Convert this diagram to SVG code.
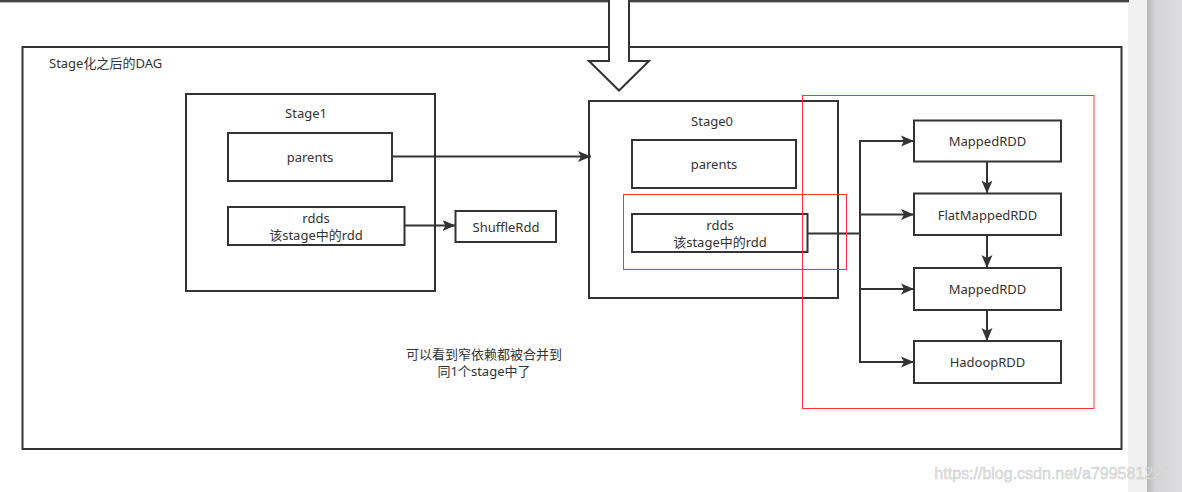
<svg xmlns="http://www.w3.org/2000/svg" width="1182" height="492" viewBox="0 0 1182 492">
<style>
.box{fill:#ffffff;stroke:#333333;stroke-width:2}
.red{fill:none;stroke:#ff3333;stroke-width:1}
.t{font-family:"Noto Sans","Noto Sans CJK SC",sans-serif;font-size:13px;fill:#333333;text-anchor:middle;dominant-baseline:central}
.conn{fill:none;stroke:#333333;stroke-width:2}
</style>
<defs>
<marker id="ah" markerUnits="userSpaceOnUse" markerWidth="14" markerHeight="12" viewBox="0 0 14 12" refX="13" refY="6" orient="auto">
<path d="M0,0.5 L13,6 L0,11.5 L3,6 Z" fill="#333333"/>
</marker>
<linearGradient id="side" x1="0" y1="0" x2="1" y2="0">
<stop offset="0" stop-color="#b8b8b8"/>
<stop offset="0.25" stop-color="#d4d4d6"/>
<stop offset="1" stop-color="#dedee0"/>
</linearGradient>
</defs>
<rect x="0" y="0" width="1182" height="492" fill="#ffffff"/>
<rect x="1128" y="0" width="20" height="492" fill="#f0f0f0"/>
<rect x="1147" y="0" width="35" height="492" fill="url(#side)"/>
<line x1="0" y1="1" x2="1129" y2="1" stroke="#444444" stroke-width="2"/>
<line x1="0" y1="2.5" x2="1129" y2="2.5" stroke="#bbbbbb" stroke-width="1"/>

<g id="outer">
<rect class="box" x="22.5" y="47" width="1099" height="402" fill="none"/>
<text class="t" x="49" y="63" style="text-anchor:start">Stage化之后的DAG</text>
</g>

<g id="bigarrow">
<polygon points="609,-2 629,-2 629,61 649,61 619,90.5 589,61 609,61" fill="#ffffff" stroke="#333333" stroke-width="2"/>
</g>

<g id="stage1">
<rect class="box" x="186" y="94" width="249" height="197"/>
<text class="t" x="306" y="113">Stage1</text>
</g>
<g id="stage1-parents">
<rect class="box" x="228" y="133" width="164" height="48"/>
<text class="t" x="310" y="157">parents</text>
</g>
<g id="stage1-rdds">
<rect class="box" x="228" y="207" width="176.5" height="38"/>
<text class="t" x="316" y="217.5">rdds</text>
<text class="t" x="316" y="235">该stage中的rdd</text>
</g>
<g id="shufflerdd">
<rect class="box" x="455.5" y="211" width="100.5" height="31"/>
<text class="t" x="506" y="226.5">ShuffleRdd</text>
</g>

<g id="stage0">
<rect class="box" x="589" y="101" width="249" height="197"/>
<text class="t" x="712" y="121">Stage0</text>
</g>
<g id="stage0-parents">
<rect class="box" x="632" y="140" width="164" height="48"/>
<text class="t" x="714" y="164">parents</text>
</g>
<g id="stage0-rdds">
<rect class="box" x="632" y="214" width="175.5" height="38"/>
<text class="t" x="720" y="225">rdds</text>
<text class="t" x="720" y="242">该stage中的rdd</text>
</g>

<g id="mapped1">
<rect class="box" x="914" y="120.5" width="147" height="41"/>
<text class="t" x="987.5" y="141">MappedRDD</text>
</g>
<g id="flatmapped">
<rect class="box" x="914" y="193.5" width="147" height="41.5"/>
<text class="t" x="987.5" y="214.5">FlatMappedRDD</text>
</g>
<g id="mapped2">
<rect class="box" x="914" y="268" width="147" height="42"/>
<text class="t" x="987.5" y="289">MappedRDD</text>
</g>
<g id="hadoop">
<rect class="box" x="914" y="341" width="147" height="42"/>
<text class="t" x="987.5" y="362">HadoopRDD</text>
</g>

<g id="connectors">
<line class="conn" x1="392" y1="156.5" x2="591" y2="156.5" marker-end="url(#ah)"/>
<line class="conn" x1="404.5" y1="225.5" x2="455.5" y2="225.5" marker-end="url(#ah)"/>
<polyline class="conn" points="807.5,233.5 860,233.5"/>
<line class="conn" x1="860" y1="140" x2="860" y2="363"/>
<line class="conn" x1="859" y1="141" x2="914" y2="141" marker-end="url(#ah)"/>
<line class="conn" x1="859" y1="214.5" x2="914" y2="214.5" marker-end="url(#ah)"/>
<line class="conn" x1="859" y1="289" x2="914" y2="289" marker-end="url(#ah)"/>
<line class="conn" x1="859" y1="362" x2="914" y2="362" marker-end="url(#ah)"/>
<line class="conn" x1="987" y1="161.5" x2="987" y2="193.5" marker-end="url(#ah)"/>
<line class="conn" x1="987" y1="235" x2="987" y2="268" marker-end="url(#ah)"/>
<line class="conn" x1="987" y1="310" x2="987" y2="341" marker-end="url(#ah)"/>
</g>

<g id="highlights">
<rect class="red" x="623.5" y="194.5" width="223" height="75"/>
<rect class="red" x="802.5" y="95.5" width="291.5" height="313"/>
</g>

<g id="note">
<text class="t" x="484" y="353.5">可以看到窄依赖都被合并到</text>
<text class="t" x="484" y="371">同1个stage中了</text>
</g>

<text x="1171" y="473" font-family="Liberation Sans, Arial, sans-serif" font-size="16" fill="#e4e4e4" stroke="#c8c8c8" stroke-width="0.4" text-anchor="end" dominant-baseline="central">https://blog.csdn.net/a799581229</text>
</svg>
